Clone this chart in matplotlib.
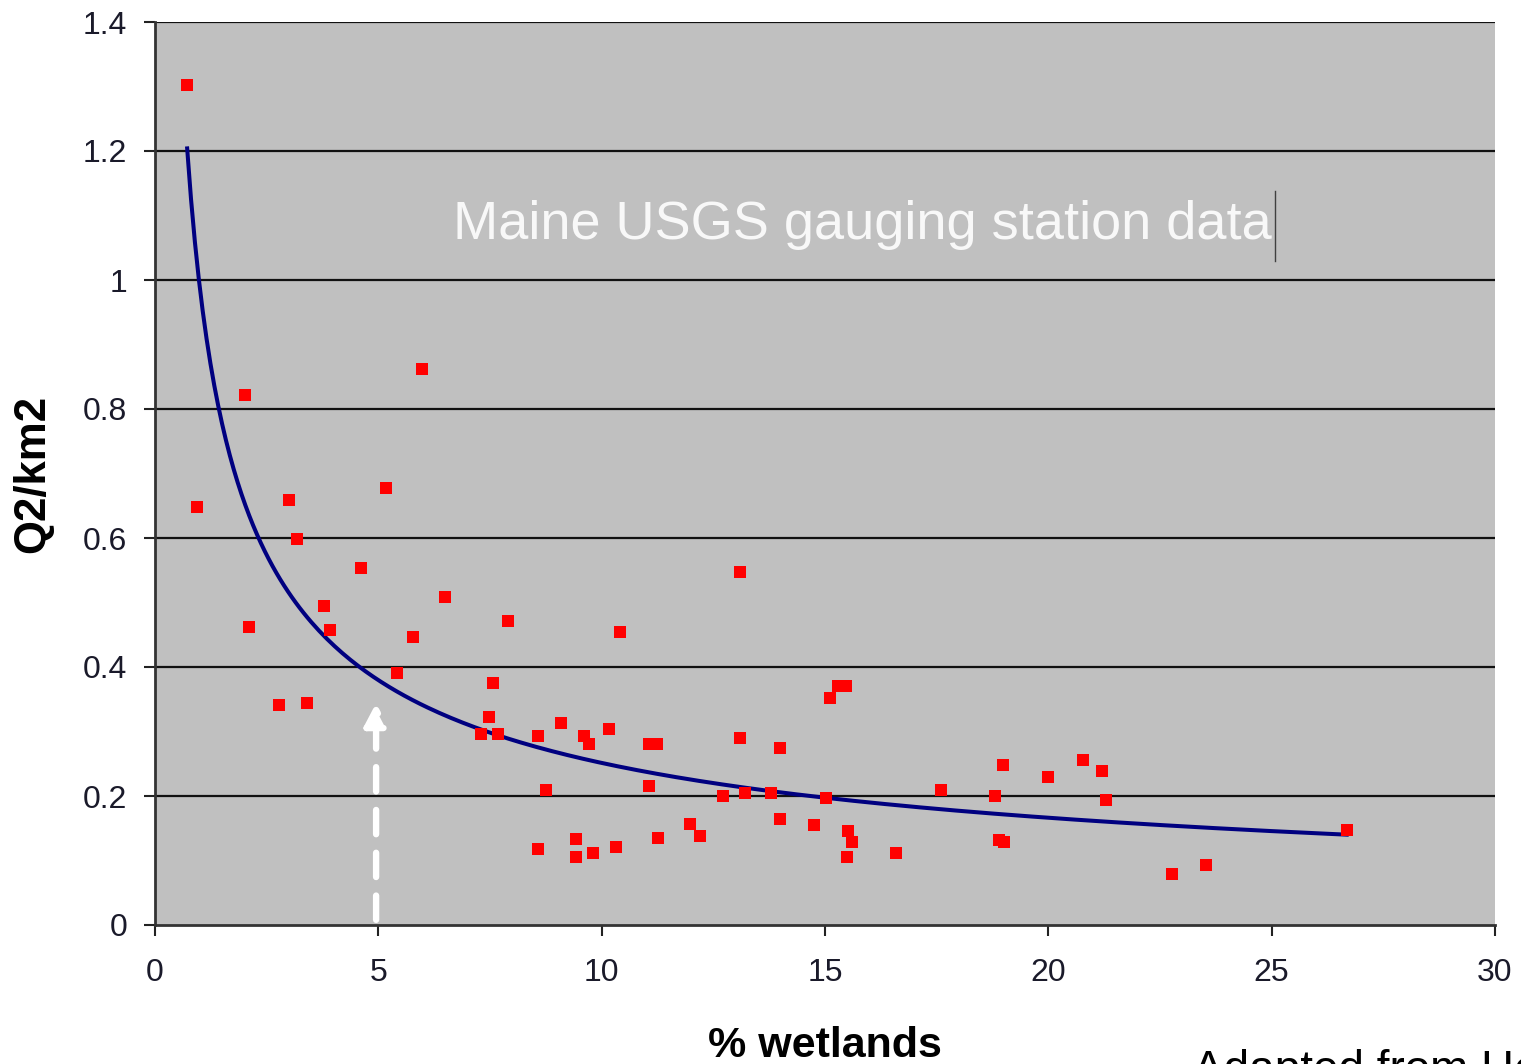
import numpy as np
import matplotlib
matplotlib.use("Agg")
import matplotlib.pyplot as plt

plt.rcParams['font.family'] = ['Liberation Sans', 'DejaVu Sans']

# % wetlands (x) and Q2/km2 (y)
wetlands = [0.72, 0.94, 2.01, 2.10, 2.78, 3.00, 3.18, 3.40, 3.78, 3.92,
            4.61, 5.17, 5.42, 5.78, 5.98, 6.49, 7.30, 7.48, 7.57, 7.68,
            7.90, 8.57, 8.57, 8.75, 9.09, 9.42, 9.42, 9.60, 9.72, 9.81,
            10.16, 10.32, 10.41, 11.06, 11.06, 11.24, 11.26, 11.98, 12.20, 12.72,
            13.10, 13.10, 13.21, 13.79, 13.99, 13.99, 14.75, 15.02, 15.11, 15.29,
            15.47, 15.51, 15.60, 15.49, 16.59, 17.60, 18.80, 18.89, 19.00, 18.98,
            19.99, 20.77, 21.20, 21.29, 22.77, 23.53, 26.68]
q2_per_km2 = [1.302, 0.648, 0.822, 0.462, 0.341, 0.659, 0.598, 0.344, 0.495, 0.457,
              0.553, 0.678, 0.391, 0.447, 0.862, 0.509, 0.296, 0.322, 0.375, 0.296,
              0.471, 0.293, 0.118, 0.209, 0.313, 0.133, 0.105, 0.293, 0.281, 0.112,
              0.304, 0.121, 0.454, 0.281, 0.216, 0.281, 0.135, 0.157, 0.138, 0.200,
              0.547, 0.290, 0.205, 0.205, 0.274, 0.164, 0.155, 0.197, 0.352, 0.371,
              0.371, 0.146, 0.129, 0.105, 0.112, 0.209, 0.200, 0.132, 0.129, 0.248,
              0.229, 0.256, 0.239, 0.194, 0.079, 0.093, 0.147]

x_ticks = [0, 5, 10, 15, 20, 25, 30]
y_ticks = [0, 0.2, 0.4, 0.6, 0.8, 1.0, 1.2, 1.4]
y_tick_labels = ['0', '0.2', '0.4', '0.6', '0.8', '1', '1.2', '1.4']
arrow_x = 4.95
arrow_y = (0.008, 0.344)

x = np.array(wetlands)
y = np.array(q2_per_km2)

# power-law trend line fitted to the data (like Excel's power trendline)
b, ln_a = np.polyfit(np.log(x), np.log(y), 1)
xf = np.linspace(x.min(), x.max(), 300)
yf = np.exp(ln_a) * xf ** b

fig = plt.figure(figsize=(15.21, 10.64), dpi=100)
ax = fig.add_axes([155/1521, 1 - 925/1064, 1340/1521, 903/1064])
ax.set_facecolor('#c0c0c0')

ax.set_xlim(0, 30)
ax.set_ylim(0, 1.4)
ax.set_xticks(x_ticks)
ax.set_yticks(y_ticks)
ax.set_yticklabels(y_tick_labels)

for yt in y_ticks[1:]:
    ax.axhline(yt, color='#111111', lw=1.6, zorder=1)

ax.plot(xf, yf, color='#000080', lw=2.9, zorder=3)
ax.plot(x, y, 's', color='#ff0000', markersize=9.2, markeredgewidth=0, zorder=4)

ax.annotate('', xy=(arrow_x, arrow_y[1]), xytext=(arrow_x, arrow_y[0]),
            arrowprops=dict(arrowstyle='-|>,head_length=13,head_width=6.8',
                            mutation_scale=1, shrinkA=0, shrinkB=0,
                            color='white', lw=4.6, linestyle=(0, (3.8, 2.9))),
            zorder=5)

ax.text(6.67, 1.085, 'Maine USGS gauging station data', color='#f8f8f8',
        fontsize=39, va='center', ha='left', zorder=6)
ax.plot([25.07, 25.07], [1.03, 1.138], color='#404040', lw=1.0, zorder=6)

for s in ['top', 'right']:
    ax.spines[s].set_visible(False)
for s in ['left', 'bottom']:
    ax.spines[s].set_color('#333333')
    ax.spines[s].set_linewidth(2.0)

ax.tick_params(axis='both', direction='out', length=8, width=1.5, color='#222222',
               labelsize=23, labelcolor='#1a1a2a')
ax.tick_params(axis='y', pad=12)
ax.tick_params(axis='x', pad=16)

ax.set_xlabel('% wetlands', fontsize=31, fontweight='bold', labelpad=27)
ax.set_ylabel('Q2/km2', fontsize=31.5, fontweight='bold', labelpad=21)

fig.text(1193/1521, -19/1064, 'Adapted from Hea', fontsize=33, color='black',
         ha='left', va='baseline')

fig.savefig('out.png', dpi=100)
